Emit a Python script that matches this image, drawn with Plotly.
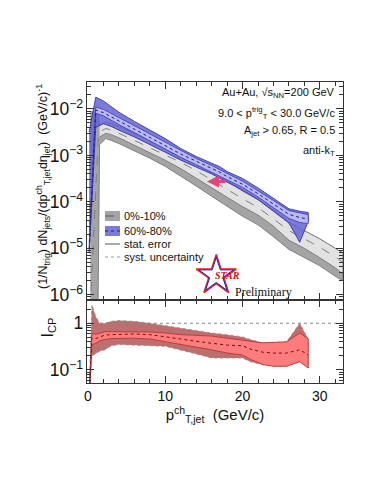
import plotly.graph_objects as go
from plotly.subplots import make_subplots

# 0%-10% (gray)
gray_x = [0.3, 1.3, 1.5, 2.3, 3, 4, 6, 8, 10, 12, 14, 16, 18, 20, 22, 24, 26, 28, 30, 32, 33]
gray_val = [5.0e-7, 2.0e-3, 3.2e-3, 3.8e-3, 3.5e-3, 3.0e-3, 2.1e-3, 1.45e-3, 1.02e-3, 7.1e-4, 4.7e-4,
            3.0e-4, 1.86e-4, 1.17e-4, 7.6e-5, 4.3e-5, 2.4e-5, 1.6e-5, 1.05e-5, 6.6e-6, 5.0e-6]
gray_hi = [8.7e-3, 8.7e-3, 4.5e-3, 5.2e-3, 4.8e-3, 4.2e-3, 2.95e-3, 2.1e-3, 1.5e-3, 1.12e-3, 7.6e-4,
           4.8e-4, 2.8e-4, 1.7e-4, 1.12e-4, 6.6e-5, 3.6e-5, 2.4e-5, 1.6e-5, 1.0e-5, 7.9e-6]
gray_lo_in = [5.0e-7, 5.0e-7, 2.5e-3, 3.0e-3, 2.8e-3, 2.4e-3, 1.66e-3, 1.15e-3, 7.9e-4, 5.2e-4, 3.3e-4,
              2.0e-4, 1.26e-4, 7.9e-5, 5.2e-5, 3.0e-5, 1.5e-5, 1.0e-5, 6.3e-6, 3.8e-6, 2.8e-6]
gray_lo = [5.0e-7, 5.0e-7, 1.7e-3, 2.3e-3, 2.1e-3, 1.8e-3, 1.26e-3, 8.7e-4, 5.8e-4, 3.5e-4, 2.2e-4,
           1.32e-4, 7.9e-5, 4.9e-5, 3.2e-5, 1.78e-5, 9.5e-6, 6.3e-6, 4.2e-6, 2.5e-6, 2.0e-6]

# 60%-80% (blue)
blue_x = [0.15, 1.0, 2, 3, 4, 6, 8, 10, 12, 14, 16, 17, 18, 20, 22, 24, 26, 27.4, 28.5]
blue_val = [1.0e-5, 9.5e-3, 8.3e-3, 6.8e-3, 5.4e-3, 3.6e-3, 2.45e-3, 1.62e-3, 1.07e-3, 7.4e-4,
            5.2e-4, 4.4e-4, 3.5e-4, 2.4e-4, 1.5e-4, 9.1e-5, 5.4e-5, 4.6e-5, 4.3e-5]
blue_sys_hi = [3.2e-3, 1.8e-2, 1.48e-2, 1.12e-2, 8.5e-3, 5.4e-3, 3.5e-3, 2.3e-3, 1.41e-3, 9.5e-4,
               6.8e-4, 5.8e-4, 4.5e-4, 3.2e-4, 2.0e-4, 1.2e-4, 7.1e-5, 6.3e-5, 5.9e-5]
blue_sys_lo = [7.9e-6, 4.0e-3, 4.8e-3, 4.2e-3, 3.5e-3, 2.5e-3, 1.74e-3, 1.17e-3, 7.9e-4, 5.6e-4,
               4.0e-4, 3.3e-4, 2.7e-4, 1.78e-4, 1.12e-4, 6.3e-5, 3.5e-5, 1.35e-5, 3.8e-5]
blue_stat_hi = [1.2e-5, 1.1e-2, 9.8e-3, 8.0e-3, 6.3e-3, 4.2e-3, 2.85e-3, 1.9e-3, 1.25e-3, 8.6e-4,
                6.1e-4, 5.1e-4, 4.1e-4, 2.8e-4, 1.75e-4, 1.07e-4, 6.5e-5, 5.7e-5, 5.3e-5]
blue_stat_lo = [8.5e-6, 8.1e-3, 7.1e-3, 5.8e-3, 4.6e-3, 3.1e-3, 2.1e-3, 1.38e-3, 9.1e-4, 6.3e-4,
                4.4e-4, 3.7e-4, 3.0e-4, 2.05e-4, 1.28e-4, 7.6e-5, 4.4e-5, 3.6e-5, 3.4e-5]

# I_CP (red)
icp_x = [0.2, 0.5, 1.0, 1.5, 2.2, 3, 4, 6, 8, 10, 12, 14, 16, 18, 20, 21, 22.6, 24, 25.7, 27.4, 28.5]
icp_val = [0.04, 0.48, 0.47, 0.5, 0.56, 0.57, 0.58, 0.59, 0.57, 0.52, 0.46, 0.41, 0.37, 0.34, 0.33,
           0.28, 0.24, 0.23, 0.23, 0.27, 0.21]
icp_sys_hi = [0.06, 2.5, 1.4, 1.0, 1.0, 1.1, 1.14, 1.1, 1.0, 0.88, 0.78, 0.7, 0.62, 0.57, 0.51,
              0.45, 0.38, 0.39, 0.4, 1.0, 0.46]
icp_sys_lo = [0.03, 0.2, 0.22, 0.25, 0.27, 0.33, 0.35, 0.34, 0.33, 0.32, 0.27, 0.22, 0.18, 0.18,
              0.18, 0.15, 0.13, 0.12, 0.12, 0.15, 0.11]
icp_stat_hi = [0.05, 0.6, 0.58, 0.6, 0.66, 0.66, 0.66, 0.66, 0.65, 0.62, 0.57, 0.55, 0.53, 0.48,
               0.43, 0.4, 0.38, 0.39, 0.4, 0.62, 0.46]
icp_stat_lo = [0.03, 0.35, 0.37, 0.42, 0.45, 0.47, 0.48, 0.48, 0.46, 0.4, 0.35, 0.31, 0.27, 0.23,
               0.21, 0.17, 0.13, 0.12, 0.12, 0.15, 0.11]

legend_labels = ["0%-10%", "60%-80%", "stat. error", "syst. uncertainty"]
info_lines = ["Au+Au, √s<sub>NN</sub>=200 GeV",
              "9.0 &lt; p<sup>trig</sup><sub>T</sub> &lt; 30.0 GeV/c",
              "A<sub>jet</sub> &gt; 0.65, R = 0.5",
              "anti-k<sub>T</sub>"]

font_main = "Liberation Sans, Arial, sans-serif"
# the page body adds an 8px offset, so margins are set 8px smaller on top/left
W, H = 374, 484
L, R, T, B = 79, 39, 74, 109
PX0, PX1, PY0, PY1 = 87, 343, 82, 383   # plot area as seen on screen


def px(x):
    return (x - PX0) / (PX1 - PX0)


def py(y):
    return 1 - (y - PY0) / (PY1 - PY0)


def band(x, lo, hi, fill, line, dash="solid", width=0.8):
    return go.Scatter(x=list(x) + list(x)[::-1], y=list(hi) + list(lo)[::-1],
                      fill="toself", fillcolor=fill, mode="lines",
                      line=dict(color=line, width=width, dash=dash),
                      showlegend=False, hoverinfo="skip")


fig = make_subplots(rows=2, cols=1, shared_xaxes=True, vertical_spacing=0)

# gray 0-10%
fig.add_trace(band(gray_x, gray_lo, gray_hi, "#a4a4a4", "#6e6e6e"), row=1, col=1)
fig.add_trace(band(gray_x[2:], gray_lo_in[2:], gray_hi[2:], "#e2e2e2", "#707070"), row=1, col=1)
fig.add_trace(go.Scatter(x=gray_x, y=gray_val, mode="lines", showlegend=False,
                         line=dict(color="#808080", width=1, dash="dash")), row=1, col=1)

# blue 60-80%
fig.add_trace(band(blue_x, blue_sys_lo, blue_sys_hi, "rgba(100,100,212,0.85)", "#2a2aa8"), row=1, col=1)
fig.add_trace(band(blue_x, blue_stat_lo, blue_stat_hi, "#b9b9f0", "#3a3ab0"), row=1, col=1)
fig.add_trace(go.Scatter(x=blue_x, y=blue_val, mode="lines", showlegend=False,
                         line=dict(color="#1a1a90", width=1, dash="dot")), row=1, col=1)

# STAR logo
fig.add_trace(go.Scatter(x=[16.6], y=[2.6e-6], mode="markers", showlegend=False,
                         marker=dict(symbol="star-open", size=30, color="#e02020",
                                     line=dict(width=1.5))), row=1, col=1)
fig.add_trace(go.Scatter(x=[16.6], y=[2.6e-6], mode="markers", showlegend=False,
                         marker=dict(symbol="star-open", size=26, color="#2020c0",
                                     line=dict(width=1))), row=1, col=1)

# I_CP
fig.add_trace(band(icp_x, icp_sys_lo, icp_sys_hi, "#bd6f6f", "#a08080", dash="dot"), row=2, col=1)
fig.add_trace(band(icp_x, icp_stat_lo, icp_stat_hi, "#ff7c7c", "#b03030"), row=2, col=1)
fig.add_trace(go.Scatter(x=icp_x, y=icp_val, mode="lines", showlegend=False,
                         line=dict(color="#701010", width=1, dash="dot")), row=2, col=1)
fig.add_trace(go.Scatter(x=[0, 33], y=[1, 1], mode="lines", showlegend=False,
                         line=dict(color="#888", width=1, dash="dot")), row=2, col=1)

axis_common = dict(showline=True, linecolor="#333", linewidth=1, mirror="allticks",
                   ticks="inside", tickcolor="#333", showgrid=False, zeroline=False,
                   automargin=False,
                   tickfont=dict(size=14, family=font_main, color="#111"))

fig.update_xaxes(range=[-0.13, 33], dtick=10, ticklen=7,
                 minor=dict(ticks="inside", dtick=2, ticklen=4, tickcolor="#333"),
                 **axis_common)
fig.update_xaxes(showticklabels=False, row=1, col=1)
fig.update_xaxes(title=dict(text="p<sup>ch</sup><sub>T,jet</sub>  (GeV/c)",
                            font=dict(size=15, family=font_main), standoff=2), row=2, col=1)

fig.update_yaxes(type="log", dtick=1, exponentformat="power", ticklen=7,
                 minor=dict(ticks="inside", dtick="D1", ticklen=4, tickcolor="#333"),
                 **axis_common)
fig.update_yaxes(range=[-6.11, -1.42], domain=[0.276, 1], row=1, col=1)
fig.update_yaxes(range=[-1.28, 0.5], domain=[0, 0.276], row=2, col=1)

# y titles
fig.add_annotation(text="(1/N<sub>trig</sub>) dN<sub>jets</sub>/(dp<sup>ch</sup><sub>T,jet</sub>dη<sub>jet</sub>)  (GeV/c)<sup>-1</sup>",
                   xref="paper", yref="paper", x=px(32), y=py(187), textangle=-90,
                   showarrow=False, font=dict(size=12.5, family=font_main, color="#111"))
fig.add_annotation(text="I<sub>CP</sub>", xref="paper", yref="paper", x=px(36), y=py(340),
                   textangle=-90, showarrow=False,
                   font=dict(size=16, family=font_main, color="#111"))

for txt, yy in zip(info_lines, [93, 113, 131, 151]):
    fig.add_annotation(text=txt, xref="paper", yref="paper", x=px(337), y=py(yy),
                       xanchor="right", yanchor="middle", showarrow=False,
                       font=dict(size=11, family=font_main, color="#111"))

# manual legend
leg_y = [216, 231, 244, 257]
fig.add_shape(type="rect", xref="paper", yref="paper", x0=px(105), x1=px(120),
              y0=py(211), y1=py(221), fillcolor="#a4a4a4", line=dict(width=0))
fig.add_shape(type="line", xref="paper", yref="paper", x0=px(105), x1=px(120),
              y0=py(216), y1=py(216), line=dict(color="#555", width=1, dash="dash"))
fig.add_shape(type="rect", xref="paper", yref="paper", x0=px(105), x1=px(120),
              y0=py(226), y1=py(236), fillcolor="rgba(100,100,212,0.85)", line=dict(width=0))
fig.add_shape(type="line", xref="paper", yref="paper", x0=px(105), x1=px(120),
              y0=py(231), y1=py(231), line=dict(color="#1a1a90", width=1.2, dash="dot"))
fig.add_shape(type="line", xref="paper", yref="paper", x0=px(105), x1=px(120),
              y0=py(244), y1=py(244), line=dict(color="#555", width=1))
fig.add_shape(type="line", xref="paper", yref="paper", x0=px(105), x1=px(120),
              y0=py(257), y1=py(257), line=dict(color="#999", width=1, dash="dot"))
for txt, yy in zip(legend_labels, leg_y):
    fig.add_annotation(text=txt, xref="paper", yref="paper", x=px(122), y=py(yy),
                       xanchor="left", yanchor="middle", showarrow=False,
                       font=dict(size=11, family=font_main, color="#111"))

fig.add_annotation(text="<b><i>STAR</i></b>", x=18.0, y=-5.58, xref="x", yref="y",
                   showarrow=False, font=dict(size=10, family="Liberation Serif, serif", color="#d01010"))
fig.add_annotation(text="Preliminary", xref="paper", yref="paper", x=px(233), y=py(292),
                   xanchor="left", yanchor="middle", showarrow=False,
                   font=dict(size=12, family="Liberation Serif, serif", color="#111"))

# pink arrow
fig.add_annotation(x=15.4, y=-3.56, ax=18.0, ay=-3.56, xref="x", yref="y", axref="x", ayref="y",
                   text="", showarrow=True, arrowhead=2, arrowsize=0.8, arrowwidth=3,
                   arrowcolor="#e8407a")

fig.update_layout(
    width=W, height=H,
    margin=dict(l=L, r=R, t=T, b=B),
    paper_bgcolor="white", plot_bgcolor="white",
    font=dict(family=font_main, color="#111"),
    showlegend=False,
)

fig.write_html("out.html")
